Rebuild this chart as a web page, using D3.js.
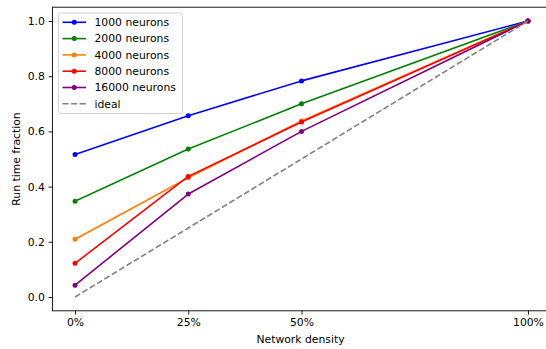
<!DOCTYPE html>
<html>
<head>
<meta charset="utf-8">
<script src="https://cdn.jsdelivr.net/npm/d3@7"></script>
<style>
body { margin: 0; background: #fff; }
svg { display: block; font-family: "DejaVu Sans", sans-serif; }
</style>
</head>
<body>
<div id="chart"></div>
<script>
// network density (%) at each measurement
var densities = [0, 25, 50, 100];
var xTickLabels = ["0%", "25%", "50%", "100%"];
var yTicks = [0.0, 0.2, 0.4, 0.6, 0.8, 1.0];

var seriesNames = ["1000 neurons", "2000 neurons", "4000 neurons", "8000 neurons", "16000 neurons"];
var run1000 = [0.516, 0.657, 0.783, 1.0];
var run2000 = [0.347, 0.536, 0.700, 1.0];
var run4000 = [0.209, 0.432, 0.638, 1.0];
var run8000 = [0.122, 0.437, 0.634, 1.0];
var run16000 = [0.043, 0.373, 0.600, 1.0];
var ideal = [0.0, 0.25, 0.5, 1.0];

var colors = ["blue", "green", "#ff7f0e", "red", "purple"];

var width = 546, height = 349;
var fs = 10.8;

var svg = d3.select("#chart").append("svg")
    .attr("width", width)
    .attr("height", height);

// axes limits with matplotlib-like 5% margins
var x = d3.scaleLinear().domain([-5, 105]).range([52.4, 550.6]);
var y = d3.scaleLinear().domain([-0.05, 1.05]).range([310.8, 7.2]);

var line = d3.line()
    .x(function (d, i) { return x(densities[i]); })
    .y(function (d) { return y(d); });

var allSeries = [run1000, run2000, run4000, run8000, run16000];

allSeries.forEach(function (s, k) {
    svg.append("path")
        .attr("d", line(s))
        .attr("fill", "none")
        .attr("stroke", colors[k])
        .attr("stroke-width", 1.6)
        .attr("stroke-linejoin", "round")
        .attr("stroke-linecap", "square");
    svg.selectAll(".m" + k)
        .data(s)
        .enter()
        .append("circle")
        .attr("cx", function (d, i) { return x(densities[i]); })
        .attr("cy", function (d) { return y(d); })
        .attr("r", 2.5)
        .attr("fill", colors[k]);
});

svg.append("path")
    .attr("d", line(ideal))
    .attr("fill", "none")
    .attr("stroke", "gray")
    .attr("stroke-width", 1.6)
    .attr("stroke-dasharray", "6,2.6");

// spines
var x0 = x.range()[0], x1 = x.range()[1], y0 = y.range()[0], y1 = y.range()[1];
svg.append("rect")
    .attr("x", x0).attr("y", y1)
    .attr("width", x1 - x0).attr("height", y0 - y1)
    .attr("fill", "none").attr("stroke", "#000").attr("stroke-width", 0.9);

// x axis
var xAxis = d3.axisBottom(x)
    .tickValues(densities)
    .tickFormat(function (d, i) { return xTickLabels[i]; })
    .tickSize(3.8)
    .tickPadding(3.8);
var gx = svg.append("g").attr("transform", "translate(0," + y0 + ")").call(xAxis);
gx.select(".domain").remove();
gx.selectAll("line").attr("stroke", "#000").attr("stroke-width", 0.9);
gx.selectAll("text").attr("font-size", fs).attr("fill", "#000").attr("font-family", "DejaVu Sans");

// y axis
var yAxis = d3.axisLeft(y)
    .tickValues(yTicks)
    .tickFormat(d3.format(".1f"))
    .tickSize(3.8)
    .tickPadding(3.8);
var gy = svg.append("g").attr("transform", "translate(" + x0 + ",0)").call(yAxis);
gy.select(".domain").remove();
gy.selectAll("line").attr("stroke", "#000").attr("stroke-width", 0.9);
gy.selectAll("text").attr("font-size", fs).attr("fill", "#000").attr("font-family", "DejaVu Sans");

// axis titles
svg.append("text")
    .attr("x", (x0 + x1) / 2 - 1)
    .attr("y", 343)
    .attr("text-anchor", "middle")
    .attr("font-size", fs)
    .text("Network density");

svg.append("text")
    .attr("transform", "translate(20," + ((y0 + y1) / 2) + ") rotate(-90)")
    .attr("text-anchor", "middle")
    .attr("font-size", fs)
    .text("Run time fraction");

// legend
var legend = svg.append("g").attr("transform", "translate(58.5,13)");
legend.append("rect")
    .attr("width", 124).attr("height", 100.5)
    .attr("rx", 2.5)
    .attr("fill", "#fff").attr("fill-opacity", 0.8)
    .attr("stroke", "#ccc").attr("stroke-width", 0.9);

var legendNames = seriesNames.concat(["ideal"]);
var legendColors = colors.concat(["gray"]);
legendNames.forEach(function (name, i) {
    var ly = 9.3 + i * 16.3;
    var item = legend.append("g").attr("transform", "translate(0," + ly + ")");
    item.append("line")
        .attr("x1", 4).attr("x2", 27.5)
        .attr("stroke", legendColors[i])
        .attr("stroke-width", 1.6)
        .attr("stroke-dasharray", i === 5 ? "6,2.6" : null);
    if (i < 5) {
        item.append("circle")
            .attr("cx", 15.75).attr("r", 2.5)
            .attr("fill", legendColors[i]);
    }
    item.append("text")
        .attr("x", 36)
        .attr("dy", "0.35em")
        .attr("font-size", fs)
        .text(name);
});
</script>
</body>
</html>
